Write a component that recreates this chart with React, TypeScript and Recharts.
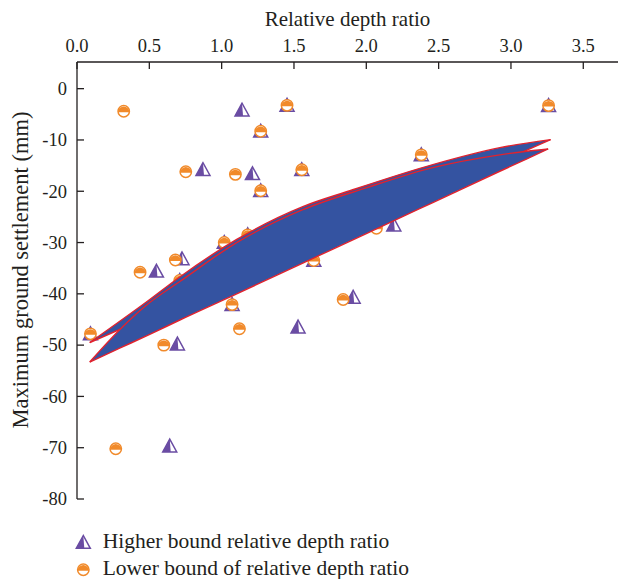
import React from 'react';
import { ComposedChart, XAxis, YAxis, Area, Scatter } from 'recharts';

// axis ticks
const xTicks = [0, 0.5, 1.0, 1.5, 2.0, 2.5, 3.0, 3.5];
const yTicks = [0, -10, -20, -30, -40, -50, -60, -70, -80];

// Higher bound relative depth ratio (triangles)
const higherX = [0.093, 0.549, 0.641, 0.694, 0.726, 0.71, 0.871, 1.018, 1.072, 1.141, 1.18, 1.213, 1.27, 1.27, 1.452, 1.528, 1.554, 1.637, 1.909, 2.19, 2.38, 3.26];
const higherY = [-47.8, -35.6, -69.7, -49.8, -33.2, -37.4, -15.8, -30.0, -42.1, -4.2, -28.5, -16.6, -8.3, -19.9, -3.25, -46.5, -15.8, -33.5, -40.7, -26.6, -12.9, -3.3];

// Lower bound of relative depth ratio (half-filled circles)
const lowerX = [0.093, 0.268, 0.323, 0.436, 0.6, 0.68, 0.71, 0.752, 1.018, 1.072, 1.095, 1.123, 1.18, 1.27, 1.27, 1.452, 1.554, 1.637, 1.84, 2.07, 2.38, 3.26];
const lowerY = [-47.8, -70.2, -4.4, -35.8, -50.0, -33.4, -37.4, -16.2, -30.0, -42.1, -16.7, -46.8, -28.5, -8.3, -19.9, -3.25, -15.8, -33.5, -41.1, -27.2, -12.9, -3.3];

// upper band: curved top edge, straight bottom edge
const upperBandX = [0.088, 0.503, 0.696, 1.104, 1.561, 1.886, 2.46, 2.923, 3.274];
const upperBandTop = [-49.5, -41.1, -37.0, -29.4, -23.0, -19.9, -14.8, -11.5, -9.94];
const upperBandBottom = [-49.5, -44.4, -42.0, -36.9, -31.2, -27.2, -20.1, -14.3, -9.94];

// lower band
const lowerBandX = [0.088, 0.295, 0.503, 0.711, 1.104, 1.561, 2.004, 2.46, 2.923, 3.11, 3.257];
const lowerBandTop = [-53.3, -47.0, -41.7, -37.6, -30.0, -23.6, -19.3, -15.4, -12.9, -12.2, -11.75];
const lowerBandBottom = [-53.3, -50.6, -47.9, -45.1, -40.0, -34.0, -28.2, -22.2, -16.1, -13.7, -11.75];

const INK = '#231f20';
const PURPLE = '#6a4ca3';
const ORANGE = '#f18a2a';
const BLUE = '#3453a1';
const RED = '#e1232e';
const FONT = '"Liberation Serif", serif';
const TICK_GAP = 10;
const TICK_LEN = 7;

const higherData = higherX.map((x, i) => ({ x, y: higherY[i] }));
const lowerData = lowerX.map((x, i) => ({ x, y: lowerY[i] }));
const upperBand = upperBandX.map((x, i) => ({ x, range: [upperBandBottom[i], upperBandTop[i]] }));
const lowerBand = lowerBandX.map((x, i) => ({ x, range: [lowerBandBottom[i], lowerBandTop[i]] }));

function TopTick({ x, y, payload }: any) {
  const axisY = y + TICK_GAP;
  return (
    <g>
      <line x1={x} y1={axisY} x2={x} y2={axisY + TICK_LEN} stroke={INK} strokeWidth={1.3} />
      <text x={x} y={y} textAnchor="middle" fill={INK} fontSize={18.5} fontFamily={FONT}>
        {Number(payload.value).toFixed(1)}
      </text>
    </g>
  );
}

function LeftTick({ x, y, payload }: any) {
  const axisX = x + TICK_GAP;
  return (
    <g>
      <line x1={axisX} y1={y} x2={axisX + TICK_LEN} y2={y} stroke={INK} strokeWidth={1.3} />
      <text x={x} y={y} dy="0.34em" textAnchor="end" fill={INK} fontSize={18.5} fontFamily={FONT}>
        {payload.value}
      </text>
    </g>
  );
}

function HalfTriangle({ cx, cy }: any) {
  if (cx == null || cy == null) return null;
  const w = 7;
  const top = cy - 7;
  const base = cy + 5.8;
  return (
    <g>
      <polygon points={`${cx},${top} ${cx - w},${base} ${cx + w},${base}`} fill="#fff" stroke={PURPLE} strokeWidth={1.5} />
      <polygon points={`${cx},${top} ${cx - w},${base} ${cx + 1},${base}`} fill={PURPLE} />
    </g>
  );
}

function HalfCircle({ cx, cy }: any) {
  if (cx == null || cy == null) return null;
  const r = 5.7;
  return (
    <g>
      <circle cx={cx} cy={cy} r={r} fill="#fff" stroke={ORANGE} strokeWidth={1.5} />
      <path d={`M${cx - r},${cy + 1} A${r},${r} 0 0 1 ${cx + r},${cy + 1} Z`} fill={ORANGE} />
    </g>
  );
}

export default function App() {
  return (
    <div style={{ position: 'absolute', left: 0, top: 0, width: 618, height: 579, background: '#fff' }}>
      <ComposedChart width={618} height={579} margin={{ top: 32, right: 0, bottom: 80, left: 37 }}>
        <XAxis
          type="number"
          dataKey="x"
          orientation="top"
          height={30}
          domain={[0, 3.74]}
          allowDataOverflow
          ticks={xTicks}
          tickSize={0}
          tickMargin={TICK_GAP}
          tick={<TopTick />}
          axisLine={{ stroke: INK, strokeWidth: 1.3 }}
          label={({ viewBox }: any) => (
            <text x={viewBox.x + viewBox.width / 2} y={26} textAnchor="middle" fill={INK} fontSize={21} fontFamily={FONT}>
              Relative depth ratio
            </text>
          )}
        />
        <YAxis
          type="number"
          width={40}
          domain={[-80, 5.2]}
          allowDataOverflow
          ticks={yTicks}
          tickSize={0}
          tickMargin={TICK_GAP}
          tick={<LeftTick />}
          axisLine={{ stroke: INK, strokeWidth: 1.3 }}
          label={() => (
            <text
              x={0}
              y={0}
              transform="translate(28, 270) rotate(-90)"
              textAnchor="middle"
              fill={INK}
              fontSize={22.5}
              fontFamily={FONT}
            >
              Maximum ground settlement (mm)
            </text>
          )}
        />
        <Scatter data={higherData} dataKey="y" shape={<HalfTriangle />} isAnimationActive={false} />
        <Scatter data={lowerData} dataKey="y" shape={<HalfCircle />} isAnimationActive={false} />
        <Area
          data={upperBand}
          dataKey="range"
          type="monotone"
          fill={BLUE}
          fillOpacity={1}
          stroke={RED}
          strokeWidth={1.4}
          dot={false}
          activeDot={false}
          zIndex={700}
          isAnimationActive={false}
        />
        <Area
          data={lowerBand}
          dataKey="range"
          type="monotone"
          fill={BLUE}
          fillOpacity={1}
          stroke={RED}
          strokeWidth={1.4}
          dot={false}
          activeDot={false}
          zIndex={701}
          isAnimationActive={false}
        />
      </ComposedChart>
      <svg width={618} height={579} style={{ position: 'absolute', left: 0, top: 0, pointerEvents: 'none' }}>
        <HalfTriangle cx={83.3} cy={542.5} />
        <text x={102.7} y={548.3} fill={INK} fontSize={21.5} fontFamily={FONT}>
          Higher bound relative depth ratio
        </text>
        <HalfCircle cx={83.3} cy={569.7} />
        <text x={102.7} y={575.3} fill={INK} fontSize={21.5} fontFamily={FONT}>
          Lower bound of relative depth ratio
        </text>
      </svg>
    </div>
  );
}
